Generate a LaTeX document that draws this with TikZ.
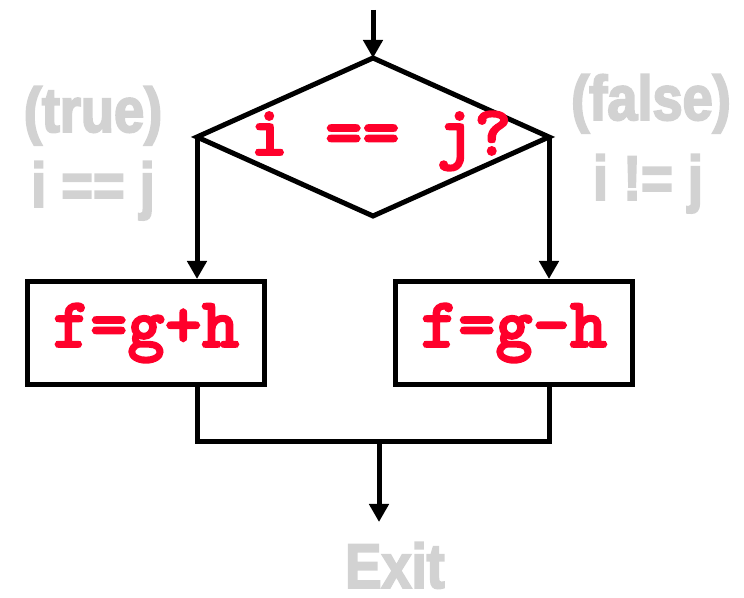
\documentclass[tikz,border=0pt]{standalone}
\usepackage{fontspec}
\usetikzlibrary{shapes.geometric,arrows.meta}
\newfontfamily\notefont[FakeStretch=0.86,FakeBold=3]{Liberation Sans Bold}
\newfontfamily\codefont[Extension=.otf,FakeBold=2.5]{lmmonolt10-bold}
\definecolor{codered}{RGB}{255,0,43}
\definecolor{notegray}{RGB}{210,210,210}

\begin{document}
\begin{tikzpicture}[x=1pt,y=1pt,line width=5pt,
  code/.style={text=codered,font=\fontsize{71}{71}\selectfont\codefont},
  note/.style={text=notegray,font=\fontsize{63}{63}\selectfont\notefont,inner sep=0pt,anchor=base},
  stmt/.style={draw,rectangle,minimum width=237pt,minimum height=103pt,inner sep=0pt},
  flow/.style={-{Triangle[width=19pt,length=18pt]}}]
\useasboundingbox (0,0) rectangle (744,597);
\coordinate (S) at (373,587); \coordinate (M) at (379,155); \coordinate (X) at (379,75);
\node[draw,diamond,minimum width=352pt,minimum height=158pt,inner sep=0pt,outer sep=0pt] (D) at (373,460) {};
\node[code,anchor=base] (Q) at (381,442) {i == j?};
\node[stmt,code] (L) at (146,264) {f=g+h};
\node[stmt,code] (R) at (514,264) {f=g-h};
\node[note] (T1) at (93,465) {(true)}; \node[note] (T2) at (93,390) {i == j};
\node[note] (F1) at (651,477) {(false)}; \node[note] (F2) at (648,397) {i != j};
\node[note] (E) at (395,9) {Exit};
\draw[flow] (S) -- (D.north);
\draw[flow] (D.west) -- (D.west |- L.north);
\draw[flow] (D.east) -- (D.east |- R.north);
\draw (D.west |- L.south) |- (D.east |- M) -- (D.east |- R.south);
\draw[flow] (M) -- (X);
\end{tikzpicture}
\end{document}
